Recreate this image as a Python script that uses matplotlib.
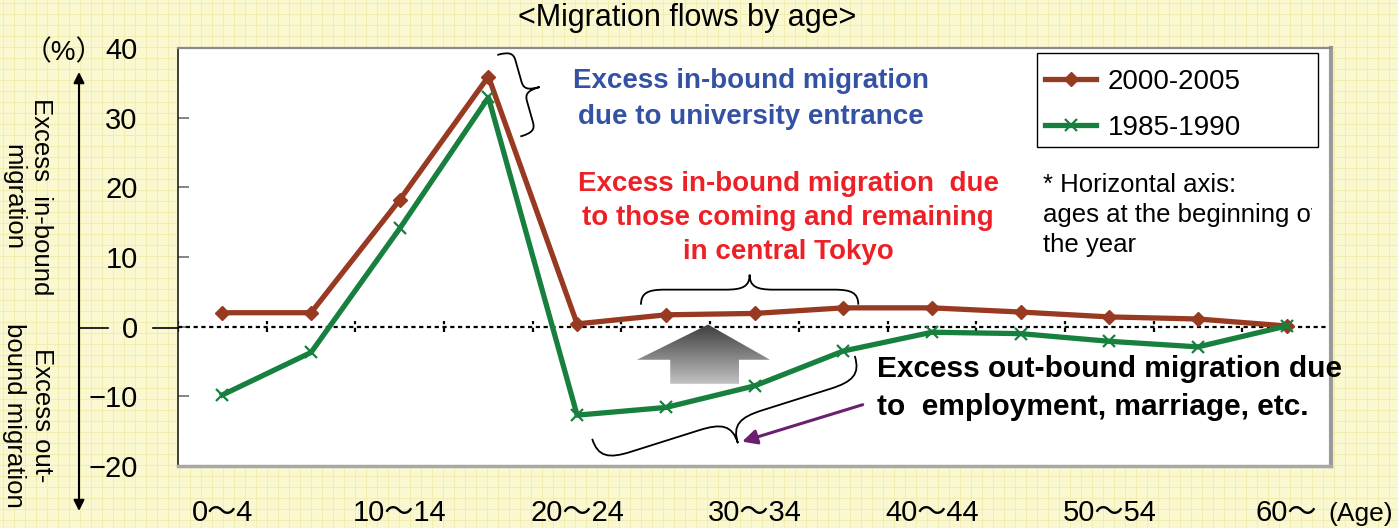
import numpy as np
import matplotlib
matplotlib.use("Agg")
import matplotlib.pyplot as plt
from matplotlib.path import Path
from matplotlib.patches import PathPatch, Polygon, FancyArrowPatch, Rectangle
from matplotlib.transforms import IdentityTransform
from matplotlib.lines import Line2D

plt.rcParams['font.family'] = ['Liberation Sans', 'Noto Sans CJK JP', 'DejaVu Sans']

# ---------------- data ----------------
categories = ["0〜4", "5〜9", "10〜14", "15〜19", "20〜24", "25〜29", "30〜34",
              "35〜39", "40〜44", "45〜49", "50〜54", "55〜59", "60〜"]
series_2000_2005 = [2.0, 2.0, 18.2, 35.9, 0.4, 1.7, 1.9, 2.7, 2.7, 2.1, 1.4, 1.1, 0.1]
series_1985_1990 = [-9.8, -3.7, 14.1, 32.9, -12.7, -11.6, -8.5, -3.5, -0.8, -1.0, -2.1, -2.9, 0.1]
label_2000 = "2000-2005"
label_1985 = "1985-1990"
yticks = [-20, -10, 0, 10, 20, 30, 40]
shown_xtick_idx = [0, 2, 4, 6, 8, 10, 12]

W, H = 1398, 528
def fx(px):
    return px / W
def fy(py):
    return 1 - py / H

BROWN = '#983A22'
GREEN = '#17803E'
BG = '#FAF8D0'

fig = plt.figure(figsize=(W / 100, H / 100), dpi=100, facecolor=BG)

# graph-paper background
bg = fig.add_axes([0, 0, 1, 1], zorder=-10)
bg.set_xlim(0, W)
bg.set_ylim(H, 0)
bg.axis('off')
for gx in np.arange(3, W, 11):
    bg.axvline(gx, color='#F2EDAE', lw=0.7)
for gy in np.arange(3, H, 11):
    bg.axhline(gy, color='#F2EDAE', lw=0.7)

ax = fig.add_axes([fx(178), fy(466), fx(1331) - fx(178), fy(48) - fy(466)])
ax.set_facecolor('white')
n = len(categories)
x = np.arange(n)
ax.set_xlim(-0.5, n - 0.5)
ax.set_ylim(-20, 40)

# dotted zero line with boundary ticks
ax.axhline(0, color='black', lw=1.6, dashes=(1.9, 1.6), zorder=2)
ax.vlines(np.arange(-0.5, n, 1), -0.8, 0.8, color='black', lw=1.6,
          linestyles=(0, (1.9, 1.6)), zorder=2)

ax.plot(x, series_2000_2005, color=BROWN, lw=3.8, marker='D', ms=7,
        mec=BROWN, mfc=BROWN, label=label_2000, zorder=4, solid_joinstyle='miter')
ax.plot(x, series_1985_1990, color=GREEN, lw=3.8, marker='x', ms=9, mew=1.6,
        mec=GREEN, label=label_1985, zorder=4)

ax.set_yticks(yticks)
ax.set_yticklabels(['\u221220', '\u221210', '0', '10', '20', '30', '40'])
ax.tick_params(axis='y', direction='in', length=8, color='#707070', width=1.2,
               labelsize=21, pad=29)
ax.set_xticks([x[i] for i in shown_xtick_idx])
ax.set_xticklabels([categories[i] for i in shown_xtick_idx])
ax.tick_params(axis='x', length=0, labelsize=21, pad=24)

ax.spines['left'].set_color('#202020')
ax.spines['left'].set_linewidth(1.2)
ax.spines['top'].set_color('#8a8a8a')
ax.spines['top'].set_linewidth(1.6)
ax.spines['right'].set_color('#9a9a9a')
ax.spines['right'].set_linewidth(3)
ax.spines['bottom'].set_color('#a8a8a8')
ax.spines['bottom'].set_linewidth(2.5)

# legend (frame drawn separately to match the wide box)
leg = ax.legend(loc='upper left', bbox_to_anchor=(fx(1045), fy(69)),
                bbox_transform=fig.transFigure, fontsize=20, frameon=False,
                handlelength=1.85, handletextpad=0.4, labelspacing=0.72,
                borderpad=0.0, borderaxespad=0)
fig.add_artist(Rectangle((fx(1037), fy(147)), fx(1318) - fx(1037), fy(53) - fy(147),
                         transform=fig.transFigure, fill=False, ec='black', lw=1.0,
                         zorder=6))

# ---------------- annotations ----------------
def brace(p0, p1, depth, side=1, lw=1.3):
    T = ax.transData
    a = np.array(T.transform(p0), float)
    b = np.array(T.transform(p1), float)
    L = np.linalg.norm(b - a)
    u = (b - a) / L
    nv = np.array([-u[1], u[0]]) * side
    w = depth
    h = L / 2
    q = min(0.12 * L, 0.8 * w)
    aa = w / 2
    local = [(0, 0), (0, aa * 0.8), (q * 0.3, aa), (q, aa),
             (h - q, aa),
             (h - q * 0.3, aa), (h, aa * 1.2), (h, w),
             (h, aa * 1.2), (h + q * 0.3, aa), (h + q, aa),
             (L - q, aa),
             (L - q * 0.3, aa), (L, aa * 0.8), (L, 0)]
    codes = [Path.MOVETO, Path.CURVE4, Path.CURVE4, Path.CURVE4,
             Path.LINETO,
             Path.CURVE4, Path.CURVE4, Path.CURVE4,
             Path.CURVE4, Path.CURVE4, Path.CURVE4,
             Path.LINETO,
             Path.CURVE4, Path.CURVE4, Path.CURVE4]
    verts = [a + s * u + t * nv for s, t in local]
    fig.add_artist(PathPatch(Path(verts, codes), transform=IdentityTransform(),
                             fill=False, lw=lw, ec='black', zorder=5))

brace((3.10, 39.0), (3.36, 27.3), 32, side=1)
brace((4.72, 3.16), (7.17, 3.16), 30, side=1)
brace((4.17, -16.1), (7.13, -4.2), 48, side=-1)

# gradient up arrow
arrow_poly = [(5.05, -8.2), (5.05, -4.75), (4.675, -4.75), (5.476, 0.3),
              (6.175, -4.75), (5.825, -4.75), (5.825, -8.2)]
poly = Polygon(arrow_poly, closed=True, fc='none', ec='none', transform=ax.transData)
ax.add_patch(poly)
grad = np.linspace(0.76, 0.24, 200).reshape(-1, 1)
im = ax.imshow(grad, cmap='gray', vmin=0, vmax=1, origin='lower', aspect='auto',
               extent=(4.675, 6.175, -8.2, 0.3), zorder=3)
im.set_clip_path(poly)
ax.set_xlim(-0.5, n - 0.5)
ax.set_ylim(-20, 40)

# purple arrow
ax.annotate('', xy=(5.86, -16.5), xytext=(7.22, -11.2),
            arrowprops=dict(arrowstyle='-|>', color='#6B206E', lw=2.2,
                            mutation_scale=22, shrinkA=0, shrinkB=0), zorder=5)

fig.text(fx(751), fy(99), "Excess in-bound migration\ndue to university entrance",
         color='#3452A4', fontsize=20, fontweight='bold', ha='center', va='center',
         linespacing=1.5)
fig.text(fx(788), fy(218), "Excess in-bound migration  due\nto those coming and remaining\nin central Tokyo",
         color='#EC2026', fontsize=20, fontweight='bold', ha='center', va='center',
         linespacing=1.38)
note = fig.text(fx(1043), fy(173), "* Horizontal axis:\nages at the beginning of\nthe year",
                color='black', fontsize=18.5, ha='left', va='top', linespacing=1.32)
note.set_clip_path(Rectangle((0, 0), 1312, H, transform=IdentityTransform()))
fig.text(fx(877), fy(388), "Excess out-bound migration due\nto  employment, marriage, etc.",
         color='black', fontsize=21.5, fontweight='bold', ha='left', va='center',
         linespacing=1.45)

fig.text(fx(687), fy(18), "<Migration flows by age>", fontsize=22, ha='center', va='center')
fig.text(fx(64), fy(53), "（%）", fontsize=20, ha='center', va='center')
fig.text(fx(1361), fy(514), "(Age)", fontsize=19, ha='center', va='center')

fig.text(fx(27), fy(197), "Excess  in-bound\nmigration", fontsize=18.5, rotation=-90,
         ha='center', va='center', multialignment='center', linespacing=1.2)
fig.text(fx(28), fy(415), "Excess out-\nbound migration", fontsize=18.5, rotation=-90,
         ha='center', va='center', multialignment='center', linespacing=1.2)

# vertical double arrow and zero-line extension at the left
fig.add_artist(FancyArrowPatch((fx(79), fy(511)), (fx(79), fy(72)),
                               transform=fig.transFigure, arrowstyle='<|-|>',
                               mutation_scale=16, lw=1.5, color='black',
                               shrinkA=0, shrinkB=0))
fig.add_artist(Line2D([fx(80), fx(108)], [fy(328), fy(328)], color='black', lw=1.2))
fig.add_artist(Line2D([fx(153), fx(178)], [fy(328), fy(328)], color='black', lw=1.2))

fig.savefig('out.png', dpi=100, facecolor=BG)
